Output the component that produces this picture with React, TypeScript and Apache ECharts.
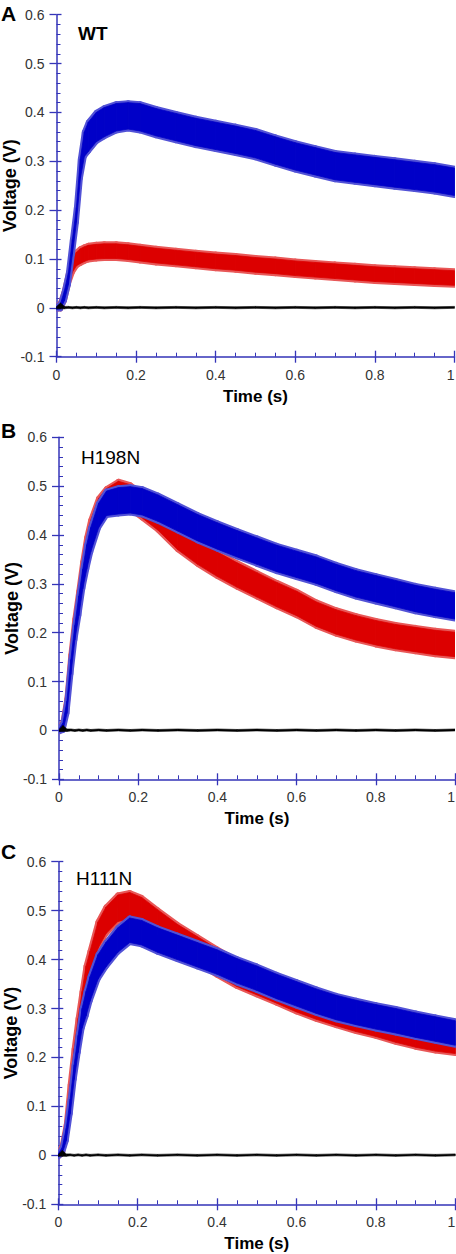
import React, { useEffect, useRef } from "react";
import * as echarts from "echarts";

// Sample times (s) at which the envelopes of the noisy traces were read
const TIME = [0, 0.01, 0.02, 0.03, 0.04, 0.05, 0.06, 0.07, 0.08, 0.1, 0.12, 0.15, 0.18, 0.21, 0.25, 0.3, 0.35, 0.4, 0.45, 0.5, 0.55, 0.6, 0.65, 0.7, 0.75, 0.8, 0.85, 0.9, 0.95, 1.0];

// Panel A (WT)
const A_BLUE_HI = [0.003, 0.008, 0.035, 0.072, 0.14, 0.205, 0.305, 0.36, 0.38, 0.4, 0.41, 0.418, 0.42, 0.418, 0.408, 0.398, 0.388, 0.38, 0.372, 0.363, 0.35, 0.338, 0.328, 0.318, 0.313, 0.308, 0.303, 0.298, 0.293, 0.286];
const A_BLUE_LO = [-0.003, -0.002, 0.015, 0.048, 0.11, 0.175, 0.265, 0.31, 0.32, 0.34, 0.35, 0.362, 0.366, 0.362, 0.352, 0.342, 0.332, 0.324, 0.316, 0.307, 0.294, 0.282, 0.272, 0.262, 0.257, 0.252, 0.247, 0.242, 0.237, 0.23];
const A_RED_HI = [0.003, 0.01, 0.035, 0.07, 0.097, 0.114, 0.121, 0.125, 0.128, 0.13, 0.131, 0.131, 0.129, 0.126, 0.122, 0.118, 0.114, 0.11, 0.107, 0.103, 0.1, 0.096, 0.093, 0.09, 0.087, 0.084, 0.082, 0.08, 0.078, 0.076];
const A_RED_LO = [-0.003, -0.002, 0.015, 0.05, 0.073, 0.086, 0.091, 0.095, 0.098, 0.1, 0.101, 0.101, 0.099, 0.096, 0.092, 0.088, 0.084, 0.08, 0.077, 0.073, 0.07, 0.066, 0.063, 0.06, 0.057, 0.054, 0.052, 0.05, 0.048, 0.046];

// Panel B (H198N)
const B_BLUE_HI = [0.003, 0.015, 0.06, 0.145, 0.215, 0.275, 0.33, 0.38, 0.415, 0.465, 0.49, 0.497, 0.499, 0.495, 0.482, 0.462, 0.442, 0.425, 0.409, 0.394, 0.379, 0.367, 0.355, 0.34, 0.327, 0.317, 0.307, 0.297, 0.289, 0.282];
const B_BLUE_LO = [-0.003, 0.0, 0.035, 0.115, 0.185, 0.235, 0.29, 0.33, 0.365, 0.415, 0.44, 0.443, 0.445, 0.441, 0.428, 0.408, 0.388, 0.371, 0.355, 0.34, 0.325, 0.313, 0.301, 0.286, 0.273, 0.263, 0.253, 0.243, 0.235, 0.228];
const B_RED_HI = [0.003, 0.017, 0.065, 0.155, 0.228, 0.285, 0.345, 0.395, 0.43, 0.475, 0.495, 0.51, 0.503, 0.485, 0.46, 0.42, 0.39, 0.365, 0.343, 0.323, 0.303, 0.285, 0.263, 0.247, 0.235, 0.225, 0.217, 0.211, 0.205, 0.201];
const B_RED_LO = [-0.003, 0.003, 0.045, 0.135, 0.2, 0.255, 0.305, 0.345, 0.38, 0.425, 0.445, 0.46, 0.453, 0.435, 0.41, 0.37, 0.34, 0.315, 0.293, 0.273, 0.253, 0.235, 0.213, 0.197, 0.185, 0.175, 0.167, 0.161, 0.155, 0.151];

// Panel C (H111N)
const C_BLUE_HI = [0.003, 0.016, 0.055, 0.115, 0.185, 0.245, 0.3, 0.335, 0.365, 0.41, 0.435, 0.465, 0.485, 0.48, 0.465, 0.45, 0.435, 0.42, 0.402, 0.387, 0.37, 0.355, 0.34, 0.327, 0.317, 0.308, 0.3, 0.291, 0.283, 0.275];
const C_BLUE_LO = [-0.003, 0.004, 0.03, 0.085, 0.155, 0.21, 0.26, 0.285, 0.315, 0.36, 0.385, 0.415, 0.435, 0.43, 0.415, 0.4, 0.385, 0.37, 0.352, 0.337, 0.32, 0.305, 0.29, 0.277, 0.267, 0.258, 0.25, 0.241, 0.233, 0.225];
const C_RED_HI = [0.003, 0.02, 0.062, 0.145, 0.218, 0.28, 0.335, 0.387, 0.417, 0.477, 0.507, 0.532, 0.537, 0.527, 0.502, 0.472, 0.447, 0.422, 0.399, 0.382, 0.365, 0.347, 0.332, 0.319, 0.307, 0.297, 0.285, 0.275, 0.267, 0.262];
const C_RED_LO = [-0.003, 0.004, 0.038, 0.115, 0.182, 0.24, 0.285, 0.333, 0.363, 0.423, 0.453, 0.478, 0.483, 0.473, 0.448, 0.418, 0.393, 0.368, 0.345, 0.328, 0.311, 0.293, 0.278, 0.265, 0.253, 0.243, 0.231, 0.221, 0.213, 0.208];

// Baseline (black) trace, same in all panels
const BLACK_HI = [0.002, 0.01, 0.003, 0.003, 0.002, 0.003, 0.002, 0.003, 0.002, 0.003, 0.002, 0.003, 0.002, 0.003, 0.002, 0.003, 0.002, 0.003, 0.002, 0.003, 0.002, 0.003, 0.002, 0.003, 0.002, 0.003, 0.002, 0.003, 0.002, 0.003];
const BLACK_LO = [-0.002, -0.002, -0.002, -0.001, -0.002, -0.001, -0.002, -0.001, -0.002, -0.001, -0.002, -0.001, -0.002, -0.001, -0.002, -0.001, -0.002, -0.001, -0.002, -0.001, -0.002, -0.001, -0.002, -0.001, -0.002, -0.001, -0.002, -0.001, -0.002, -0.001];

const PANEL_LETTERS = ["A", "B", "C"];
const PANEL_TITLES = ["WT", "H198N", "H111N"];
const X_TICKS = ["0", "0.2", "0.4", "0.6", "0.8", "1"];
const Y_TICKS = ["-0.1", "0", "0.1", "0.2", "0.3", "0.4", "0.5", "0.6"];
const X_NAME = "Time (s)";
const Y_NAME = "Voltage (V)";

const BLUE = "#0000c8";
const BLUE_FRINGE = "#5252d6";
const RED = "#dc0000";
const RED_FRINGE = "#e85858";
const BLACK = "#000000";
const AXIS = "#3434b8";
const FONT = "'Liberation Sans', Arial, Helvetica, sans-serif";

const GRIDS = [
  { left: 56.5, top: 14.7, width: 398, height: 342 },
  { left: 59, top: 437.3, width: 396, height: 342 },
  { left: 58.3, top: 861.7, width: 397, height: 342.6 },
];
const LETTER_POS = [
  { left: 1, top: 3 },
  { left: 1, top: 420 },
  { left: 1, top: 841 },
];
const TITLE_POS = [
  { left: 78, top: 24, bold: true },
  { left: 81, top: 448, bold: false },
  { left: 76, top: 869, bold: false },
];

const PANELS = [
  { red: [A_RED_HI, A_RED_LO], blue: [A_BLUE_HI, A_BLUE_LO] },
  { red: [B_RED_HI, B_RED_LO], blue: [B_BLUE_HI, B_BLUE_LO] },
  { red: [C_RED_HI, C_RED_LO], blue: [C_BLUE_HI, C_BLUE_LO] },
];

function bandData(hi: number[], lo: number[]) {
  return TIME.slice(0, -1).map((t, i) => [t, lo[i], hi[i], TIME[i + 1], lo[i + 1], hi[i + 1]]);
}

function bandSeries(
  name: string,
  g: number,
  hi: number[],
  lo: number[],
  fill: string,
  stroke: string,
  strokeWidth: number,
  z: number
) {
  return {
    type: "custom",
    name,
    xAxisIndex: g * 2,
    yAxisIndex: g * 2,
    clip: true,
    z,
    encode: { x: [0, 3], y: [1, 2, 4, 5] },
    data: bandData(hi, lo),
    renderItem: (_params: any, api: any) => {
      const a = api.coord([api.value(0), api.value(2)]);
      const b = api.coord([api.value(3), api.value(5)]);
      const c = api.coord([api.value(3), api.value(4)]);
      const d = api.coord([api.value(0), api.value(1)]);
      return {
        type: "polygon",
        shape: { points: [a, b, c, d] },
        style: { fill, stroke, lineWidth: strokeWidth, lineJoin: "round" },
      };
    },
  };
}

export default function App() {
  const ref = useRef<HTMLDivElement>(null);
  useEffect(() => {
    if (!ref.current) return;
    const chart = echarts.init(ref.current, null, { renderer: "svg" });
    const grid: any[] = [];
    const xAxis: any[] = [];
    const yAxis: any[] = [];
    const series: any[] = [];
    const title: any[] = [];
    GRIDS.forEach((gr, g) => {
      grid.push({ ...gr, containLabel: false, outerBoundsMode: "none" });
      // primary x axis (line, labels, outward major ticks)
      xAxis.push({
        type: "value",
        gridIndex: g,
        position: "bottom",
        min: 0,
        max: 1,
        interval: 0.2,
        name: X_NAME,
        nameLocation: "middle",
        nameGap: 31,
        nameMoveOverlap: false,
        nameTextStyle: { fontSize: 17, fontWeight: "bold", color: "#000", fontFamily: FONT },
        axisLine: { show: true, onZero: false, lineStyle: { color: AXIS, width: 1.5 } },
        axisTick: { show: true, inside: false, length: 6, lineStyle: { color: AXIS, width: 1.3 } },
        minorTick: { show: false },
        axisLabel: {
          show: true,
          margin: 11,
          fontSize: 14,
          color: "#333",
          fontFamily: FONT,
          hideOverlap: false,
          showMinLabel: true,
          showMaxLabel: true,
          alignMaxLabel: "right",
          formatter: (v: number) => X_TICKS[Math.round(v / 0.2)],
        },
        splitLine: { show: false },
      });
      // secondary x axis (inward major + minor ticks)
      xAxis.push({
        type: "value",
        gridIndex: g,
        position: "bottom",
        min: 0,
        max: 1,
        interval: 0.2,
        axisLine: { show: false, onZero: false },
        axisTick: { show: true, inside: true, length: 6, lineStyle: { color: AXIS, width: 1.3 } },
        minorTick: { show: true, splitNumber: 4, length: 4, lineStyle: { color: AXIS, width: 1 } },
        axisLabel: { show: false },
        splitLine: { show: false },
      });
      yAxis.push({
        type: "value",
        gridIndex: g,
        position: "left",
        min: -0.1,
        max: 0.6,
        interval: 0.1,
        name: Y_NAME,
        nameLocation: "middle",
        nameGap: 38,
        nameMoveOverlap: false,
        nameTextStyle: { fontSize: 18, fontWeight: "bold", color: "#000", fontFamily: FONT },
        axisLine: { show: true, onZero: false, lineStyle: { color: AXIS, width: 1.5 } },
        axisTick: { show: true, inside: false, length: 7, lineStyle: { color: AXIS, width: 1.3 } },
        minorTick: { show: false },
        axisLabel: {
          show: true,
          margin: 12,
          fontSize: 14,
          color: "#333",
          fontFamily: FONT,
          hideOverlap: false,
          showMinLabel: true,
          showMaxLabel: true,
          formatter: (v: number) => Y_TICKS[Math.round((v + 0.1) / 0.1)],
        },
        splitLine: { show: false },
      });
      yAxis.push({
        type: "value",
        gridIndex: g,
        position: "left",
        min: -0.1,
        max: 0.6,
        interval: 0.1,
        axisLine: { show: false, onZero: false },
        axisTick: { show: true, inside: true, length: 5, lineStyle: { color: AXIS, width: 1.3 } },
        minorTick: { show: true, splitNumber: 5, length: 4, lineStyle: { color: AXIS, width: 1 } },
        axisLabel: { show: false },
        splitLine: { show: false },
      });
      const p = PANELS[g];
      series.push(bandSeries("red fringe", g, p.red[0], p.red[1], RED_FRINGE, RED_FRINGE, 5, 2));
      series.push(bandSeries("red", g, p.red[0], p.red[1], RED, RED, 0.8, 3));
      series.push(bandSeries("blue fringe", g, p.blue[0], p.blue[1], BLUE_FRINGE, BLUE_FRINGE, 5, 4));
      series.push(bandSeries("blue", g, p.blue[0], p.blue[1], BLUE, BLUE, 0.8, 5));
      series.push(bandSeries("baseline", g, BLACK_HI, BLACK_LO, BLACK, BLACK, 0.6, 6));
      title.push({
        text: PANEL_LETTERS[g],
        left: LETTER_POS[g].left,
        top: LETTER_POS[g].top,
        padding: 0,
        textStyle: { fontSize: 21, fontWeight: "bold", color: "#000", fontFamily: FONT },
      });
      title.push({
        text: PANEL_TITLES[g],
        left: TITLE_POS[g].left,
        top: TITLE_POS[g].top,
        padding: 0,
        textStyle: {
          fontSize: 19,
          fontWeight: TITLE_POS[g].bold ? "bold" : "normal",
          color: "#000",
          fontFamily: FONT,
        },
      });
    });
    chart.setOption({
      animation: false,
      backgroundColor: "#ffffff",
      title,
      grid,
      xAxis,
      yAxis,
      series,
    });
    return () => chart.dispose();
  }, []);
  return (
    <div
      ref={ref}
      style={{ position: "absolute", left: 0, top: 0, width: 456, height: 1254 }}
    />
  );
}
